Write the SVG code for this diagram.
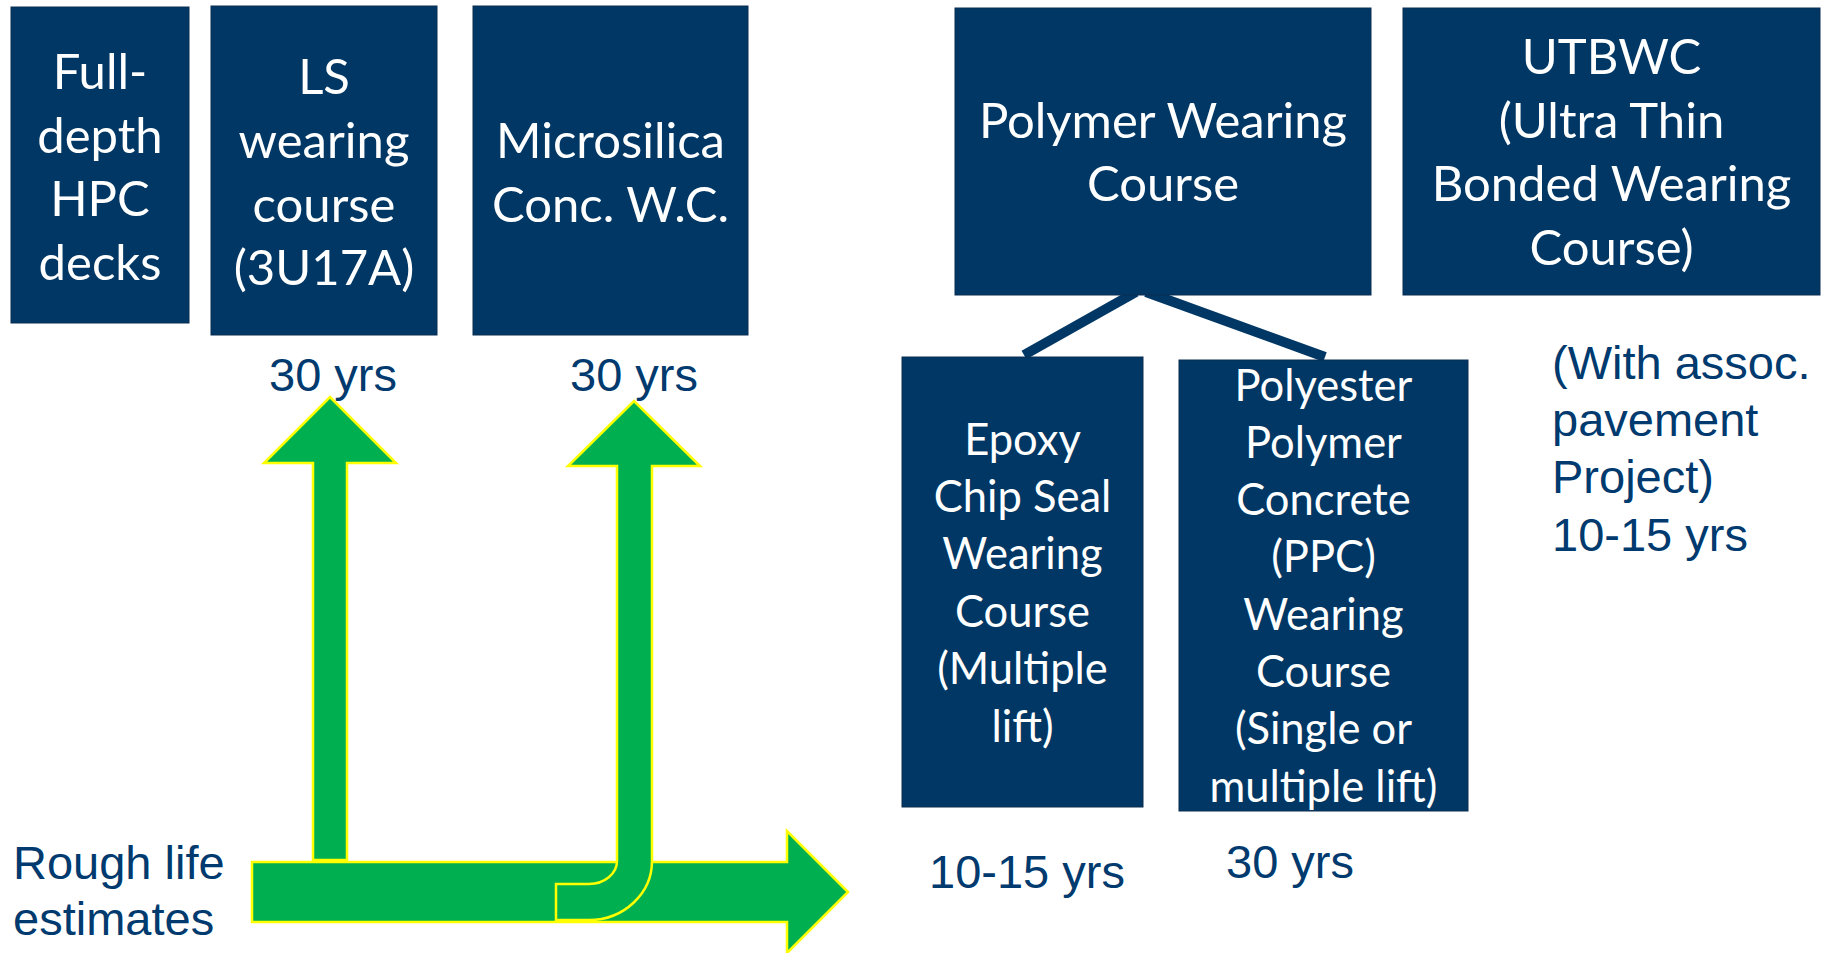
<svg xmlns="http://www.w3.org/2000/svg" width="1833" height="953" viewBox="0 0 1833 953">
<style>
.box{fill:#003764;stroke:#0a2e50;stroke-width:1}
.bt{font-family:Lato,"Open Sans",sans-serif;fill:#ffffff;text-anchor:middle}
.big{font-size:49px}
.small{font-size:43.5px}
.lbl{font-family:"Liberation Sans",Arial,sans-serif;font-size:47px;fill:#003a6e}
.mid{text-anchor:middle}
.arrow{fill:#00b050;stroke:#ffff00;stroke-width:2.5;stroke-linejoin:miter}
.conn{stroke:#003764;stroke-width:10;fill:none}
</style>
<rect width="1833" height="953" fill="#ffffff"/>

<g id="connectors">
<line class="conn" x1="1136" y1="292" x2="1024" y2="355"/>
<line class="conn" x1="1146" y1="292" x2="1325" y2="357"/>
</g>

<g id="n-fulldepth">
<rect class="box" x="11" y="7" width="178" height="316"/>
<text class="bt big"><tspan x="100" y="89">Full-</tspan><tspan x="100" y="152.5">depth</tspan><tspan x="100" y="216">HPC</tspan><tspan x="100" y="279.5">decks</tspan></text>
</g>

<g id="n-ls">
<rect class="box" x="211" y="6" width="226" height="329"/>
<text class="bt big"><tspan x="324" y="94">LS</tspan><tspan x="324" y="158">wearing</tspan><tspan x="324" y="222">course</tspan><tspan x="324" y="285">(3U17A)</tspan></text>
</g>

<g id="n-microsilica">
<rect class="box" x="473" y="6" width="275" height="329"/>
<text class="bt big"><tspan x="610.5" y="158">Microsilica</tspan><tspan x="610.5" y="222">Conc. W.C.</tspan></text>
</g>

<g id="n-polymer">
<rect class="box" x="955" y="8" width="416" height="287"/>
<text class="bt big"><tspan x="1163" y="138">Polymer Wearing</tspan><tspan x="1163" y="201">Course</tspan></text>
</g>

<g id="n-utbwc">
<rect class="box" x="1403" y="8" width="417" height="287"/>
<text class="bt big"><tspan x="1611.5" y="74">UTBWC</tspan><tspan x="1611.5" y="138">(Ultra Thin</tspan><tspan x="1611.5" y="201">Bonded Wearing</tspan><tspan x="1611.5" y="265">Course)</tspan></text>
</g>

<g id="n-epoxy">
<rect class="box" x="902" y="357" width="241" height="450"/>
<text class="bt small"><tspan x="1022.5" y="455">Epoxy</tspan><tspan x="1022.5" y="512">Chip Seal</tspan><tspan x="1022.5" y="569">Wearing</tspan><tspan x="1022.5" y="627">Course</tspan><tspan x="1022.5" y="684">(Multiple</tspan><tspan x="1022.5" y="742">lift)</tspan></text>
</g>

<g id="n-ppc">
<rect class="box" x="1179" y="360" width="289" height="451"/>
<text class="bt small"><tspan x="1323.5" y="401">Polyester</tspan><tspan x="1323.5" y="458">Polymer</tspan><tspan x="1323.5" y="515">Concrete</tspan><tspan x="1323.5" y="572">(PPC)</tspan><tspan x="1323.5" y="630">Wearing</tspan><tspan x="1323.5" y="687">Course</tspan><tspan x="1323.5" y="744">(Single or</tspan><tspan x="1323.5" y="802">multiple lift)</tspan></text>
</g>

<g id="arrows">
<polygon class="arrow" points="313,860 313,463 264,463 330,397 396,463 347,463 347,860"/>
<polygon class="arrow" points="252,862 787,862 787,831 848,892 787,953 787,922 252,922"/>
<path class="arrow" d="M617 466 L568 466 L634 401 L700 466 L652 466 L652 861 A63 59 0 0 1 589 920 L556 920 L556 884 L589 884 A28 23 0 0 0 617 861 Z"/>
</g>

<g id="labels">
<text class="lbl mid" x="333" y="391">30 yrs</text>
<text class="lbl mid" x="634" y="391">30 yrs</text>
<text class="lbl mid" x="1027" y="888">10-15 yrs</text>
<text class="lbl mid" x="1290" y="878">30 yrs</text>
<text class="lbl"><tspan x="1552" y="379">(With assoc.</tspan><tspan x="1552" y="436">pavement</tspan><tspan x="1552" y="493">Project)</tspan><tspan x="1552" y="551">10-15 yrs</tspan></text>
<text class="lbl"><tspan x="13" y="879">Rough life</tspan><tspan x="13" y="935">estimates</tspan></text>
</g>
</svg>
